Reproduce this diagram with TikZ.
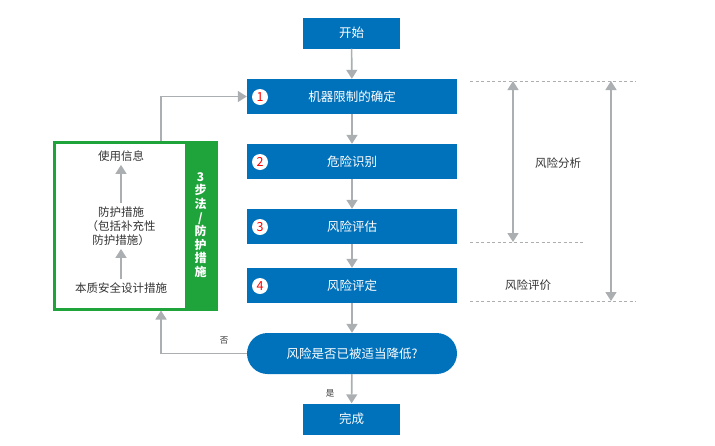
\documentclass[tikz,border=0pt]{standalone}
\usepackage{fontspec}
\setmainfont{Noto Sans CJK SC}
\usetikzlibrary{arrows.meta}

\definecolor{isoblue}{HTML}{0072BC}
\definecolor{isogreen}{HTML}{1FA33B}
\definecolor{isogray}{HTML}{ABAFB1}
\definecolor{isotext}{HTML}{333333}

\tikzset{
  stepbox/.style={fill=isoblue, text=white, minimum width=210pt, minimum height=35pt, inner sep=0pt, font=\fontsize{12.5}{14}\selectfont},
  endbox/.style={stepbox, minimum width=97pt, minimum height=31pt},
  numdot/.style={circle, fill=white, inner sep=0pt, minimum size=16pt, text=red, font=\fontsize{12.5}{12}\selectfont},
  flow/.style={isogray, line width=1.6pt, -{Triangle[width=11pt,length=9pt]}},
  both/.style={isogray, line width=1.6pt, {Triangle[width=11pt,length=9pt]}-{Triangle[width=11pt,length=9pt]}},
  guide/.style={isogray, line width=0.8pt, dash pattern=on 3pt off 2.5pt},
  note/.style={text=isotext, font=\fontsize{11.5}{14}\selectfont, align=center},
  tiny/.style={text=isotext, font=\fontsize{8.5}{10}\selectfont}
}

\begin{document}
\begin{tikzpicture}[x=1pt, y=-1pt]
  \useasboundingbox (0,0) rectangle (715,445);

  % main column
  \node[endbox] (start) at (351.5,33) {开始};
  \node[stepbox] (limits) at (352,96.5) {机器限制的确定};
  \node[stepbox] (hazard) at (352,161.5) {危险识别};
  \node[stepbox] (estim) at (352,226.5) {风险评估};
  \node[stepbox] (evalu) at (352,285.5) {风险评定};
  \node[stepbox, minimum height=41pt, rounded corners=20.5pt] (reduced) at (352,353.5) {风险是否已被适当降低?};
  \node[endbox] (done) at (351.5,419) {完成};

  \node[numdot] (n1) at (260,97) {1};
  \node[numdot] (n2) at (260,162) {2};
  \node[numdot] (n3) at (260,227) {3};
  \node[numdot] (n4) at (260,286) {4};

  \draw[flow] (start) -- (limits);
  \draw[flow] (limits) -- (hazard);
  \draw[flow] (hazard) -- (estim);
  \draw[flow] (estim) -- (evalu);
  \draw[flow] (evalu) -- (reduced);
  \draw[flow] (reduced) -- (done);
  \node[tiny] (yes) at (330,393) {是};

  % three-step method box
  \draw[isogreen, line width=3pt] (54.5,142.5) rectangle (216,309);
  \fill[isogreen] (185,142.5) rectangle (216,309);
  \coordinate (boxtop) at (161,141);
  \coordinate (boxbot) at (161,310.5);
  \node[text=white, font=\bfseries\fontsize{12}{13.6}\selectfont, align=center] (three) at (200.5,225)
    {3\\步\\法\\/\\防\\护\\措\\施};

  \node[note] (info) at (121,156) {使用信息};
  \node[note] (guard) at (121,226) {防护措施\\（包括补充性\\防护措施）};
  \node[note] (inherent) at (121,288) {本质安全设计措施};
  \draw[flow] (inherent) -- (guard);
  \draw[flow] (guard) -- (info);

  % feedback loop
  \draw[flow] (reduced.west) -| (boxbot);
  \node[tiny] (no) at (224,341) {否};
  \draw[flow] (boxtop) |- (limits.west);

  % risk analysis / evaluation ranges
  \coordinate (ga) at (470,81);
  \coordinate (gb) at (470,242);
  \coordinate (gc) at (470,301);
  \draw[guide] (ga) -- (636,81);
  \draw[guide] (gb) -- (585,242);
  \draw[guide] (gc) -- (636,301);
  \coordinate (ra) at (513,81);
  \coordinate (rb) at (513,242);
  \coordinate (ea) at (611,81);
  \coordinate (eb) at (611,301);
  \draw[both] (ra) -- (rb);
  \draw[both] (ea) -- (eb);
  \node[note] (analysis) at (558,163) {风险分析};
  \node[note] (evaluation) at (528,285) {风险评价};
\end{tikzpicture}
\end{document}
